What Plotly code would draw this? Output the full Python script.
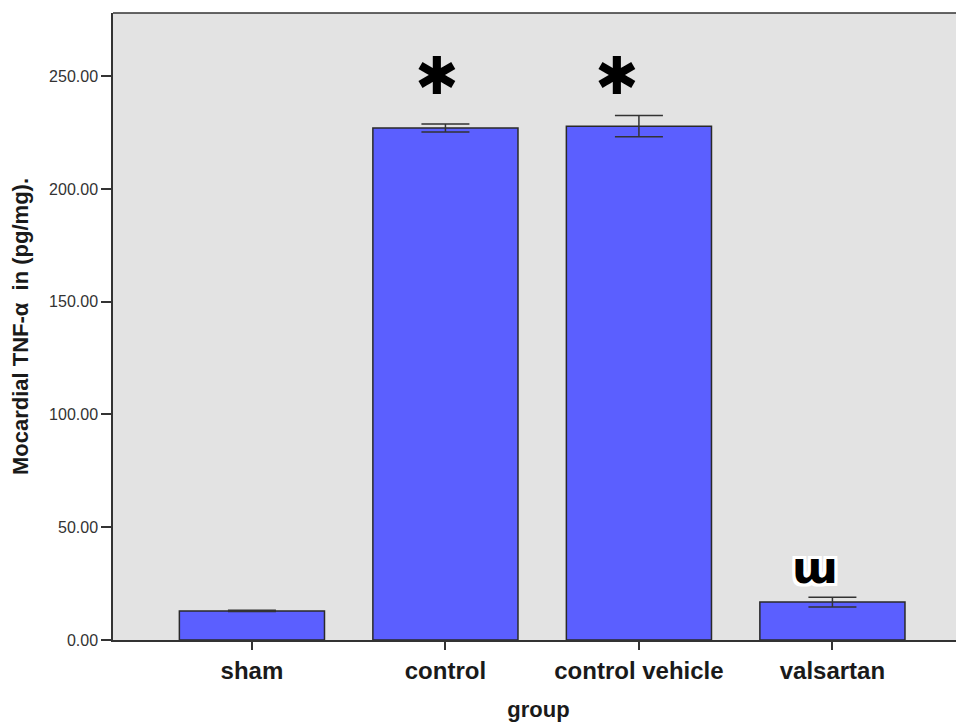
import plotly.graph_objects as go

groups = ["sham", "control", "control vehicle", "valsartan"]
means = [12.9, 227.0, 227.8, 16.8]
errors = [0.3, 1.8, 4.7, 2.2]
markers = ["", "✱", "✱", "ɯ"]
marker_shift = [0, -8, -22, -17]

fig = go.Figure()
fig.add_trace(go.Bar(
    x=groups, y=means, width=0.75,
    marker=dict(color="#5b5fff", line=dict(color="#2a2a2a", width=1.5)),
    error_y=dict(type="data", array=errors, visible=True, color="#333333", thickness=1.5, width=24),
))

top = max(m + e for m, e in zip(means, errors))
halo = ",".join(f"{dx}px {dy}px 0 white" for dx in (-3, 0, 3) for dy in (-3, 0, 3))
for g, m, e, s, dx in zip(groups, means, errors, markers, marker_shift):
    if s == "✱":
        fig.add_annotation(x=g, y=top, yshift=40, text=s, showarrow=False,
                           yanchor="middle", xshift=dx,
                           font=dict(size=52, color="black", family="DejaVu Sans"))
    elif s:
        fig.add_annotation(x=g, y=m + e, yshift=30, text="<b>" + s + "</b>", showarrow=False,
                           yanchor="middle", xshift=dx,
                           font=dict(size=44, color="black", family="DejaVu Sans", shadow=halo))

fig.add_shape(type="line", xref="paper", yref="paper", x0=0, x1=1, y0=1, y1=1,
              line=dict(color="#333333", width=1.5))

fig.update_layout(
    width=956, height=714,
    margin=dict(l=105, r=0, t=5, b=82),
    paper_bgcolor="white", plot_bgcolor="#e3e3e3",
    showlegend=False,
    font=dict(family="Liberation Sans, Arial, sans-serif"),
)
fig.update_xaxes(
    range=[-0.718, 3.68], showgrid=False, showline=True, linecolor="#333333", linewidth=1.5,
    ticks="outside", ticklen=8, tickcolor="#333333", tickwidth=1.5,
    tickfont=dict(size=24, color="#1a1a1a", family="Liberation Sans, Arial"),
    tickprefix="<b>", ticksuffix="</b>",
    title=dict(text="<b>group</b>", font=dict(size=22, color="#1a1a1a"), standoff=22),
)
fig.update_yaxes(
    range=[0, 278], showgrid=False, showline=True, linecolor="#333333", linewidth=1.5,
    zeroline=False,
    tickmode="array", tickvals=[0, 50, 100, 150, 200, 250],
    ticktext=["0.00", "50.00", "100.00", "150.00", "200.00", "250.00"],
    ticks="outside", ticklen=10, tickcolor="#333333", tickwidth=1.5,
    tickfont=dict(size=16, color="#333333", family="Liberation Sans, Arial"),
    title=dict(text="<b>Mocardial TNF-α  in (pg/mg).</b>",
               font=dict(size=22, color="#1a1a1a", family="Liberation Sans Narrow, Liberation Sans, Arial"),
               standoff=22),
)

fig.write_html("out.html")
